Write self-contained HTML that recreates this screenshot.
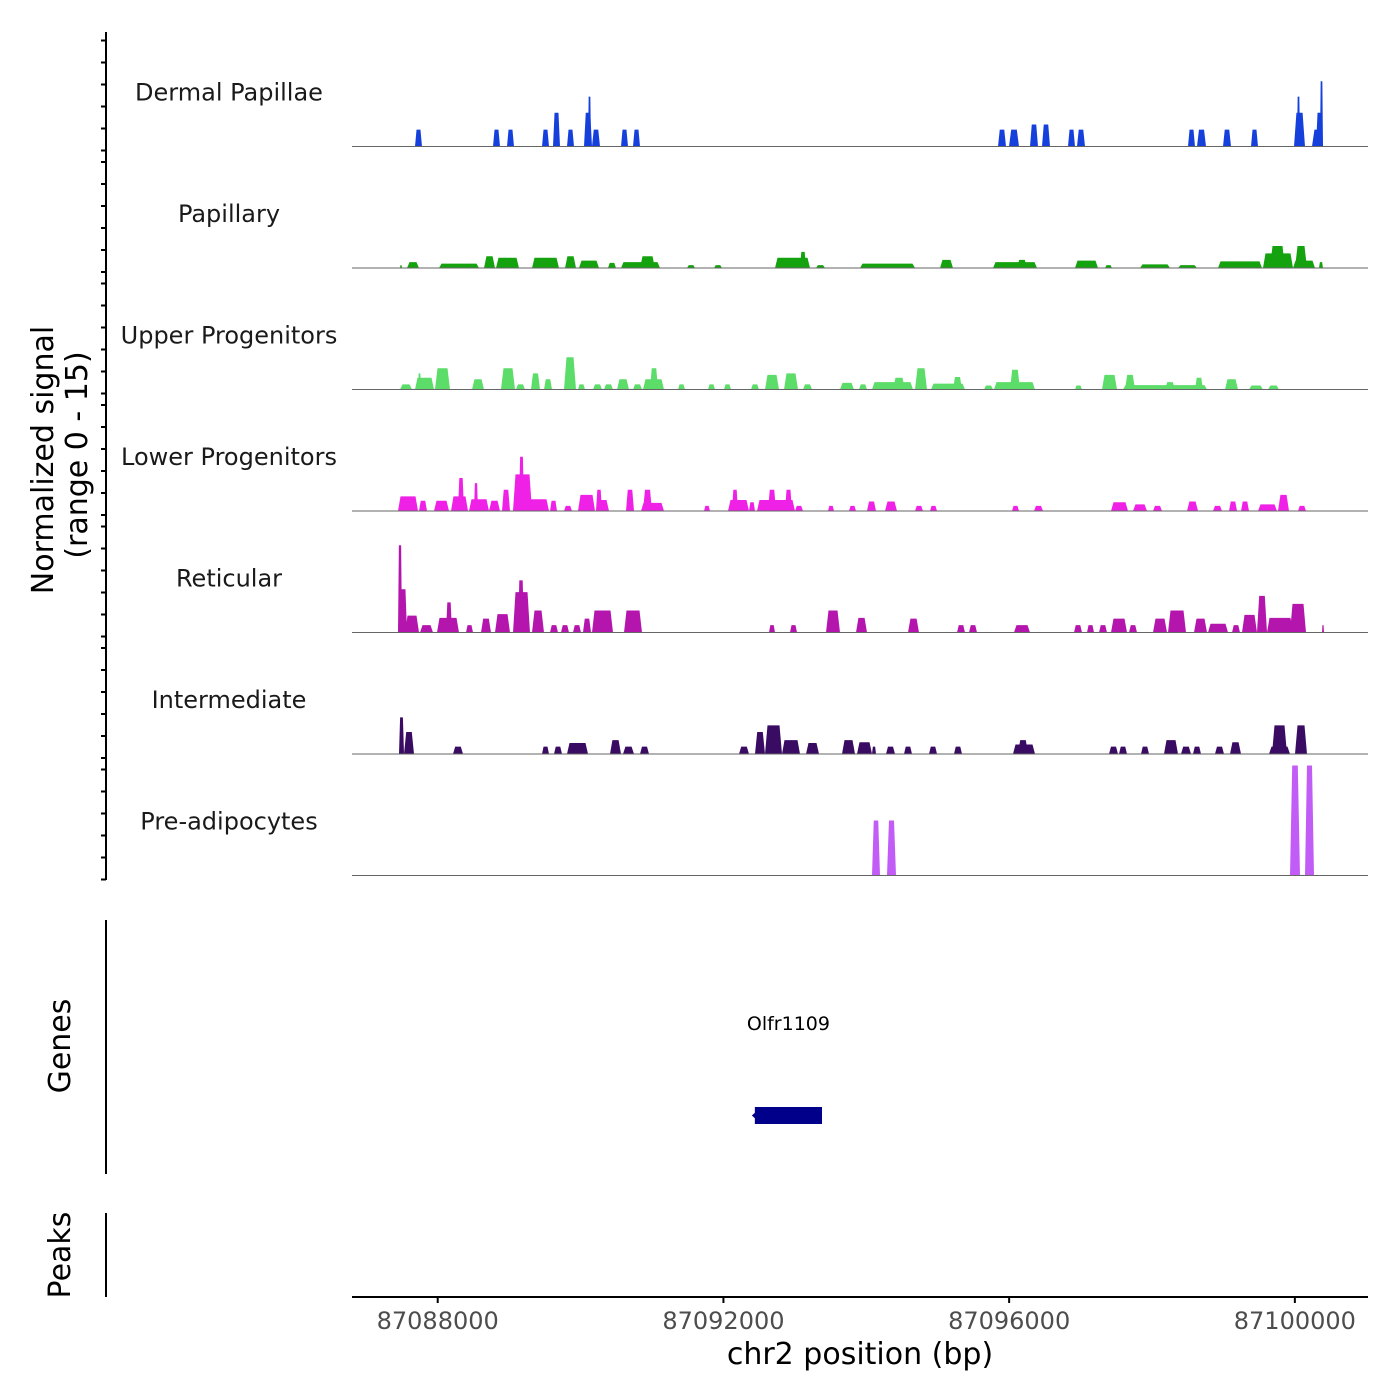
<!DOCTYPE html>
<html><head><meta charset="utf-8"><style>
html,body{margin:0;padding:0;background:#fff;}
svg{display:block;font-family:"DejaVu Sans","Liberation Sans",sans-serif;}
</style></head><body>
<svg id="chart" width="1400" height="1400" viewBox="0 0 1400 1400" xmlns="http://www.w3.org/2000/svg">
<g id="tracks"></g>
<g id="axes"></g>
</svg>
<script>
// ---- data ----
const regionStart = 87086800;       // bp at left edge
const regionEnd = 87101024;         // bp at right edge
const xTicks = [87088000, 87092000, 87096000, 87100000];
const xTickLabels = ["87088000", "87092000", "87096000", "87100000"];
const trackNames = ["Dermal Papillae","Papillary","Upper Progenitors","Lower Progenitors","Reticular","Intermediate","Pre-adipocytes"];
const trackColors = ["#1640dc","#14a30e","#5cdc68","#f021e6","#b416ad","#3a0b62","#c25cf7"];
const yRange = [0, 15];
// peaks: [startOffsetBp, endOffsetBp, value]  (offset from regionStart)
const dermalPapillae = [[882,980,2.3],[1974,2072,2.3],[2170,2268,2.3],[2660,2758,2.3],[2814,2912,4.6],[3010,3108,2.3],[3248,3360,4.6],[3304,3346,6.8],[3360,3472,2.3],[3766,3864,2.3],[3934,4032,2.3],[9044,9156,2.3],[9198,9338,2.3],[9492,9604,3.0],[9660,9772,3.0],[10024,10122,2.3],[10150,10262,2.3],[11704,11802,2.3],[11830,11956,2.3],[12194,12306,2.3],[12586,12684,2.3],[13188,13342,4.6],[13230,13272,6.8],[13440,13594,2.3],[13496,13594,4.6],[13552,13594,8.9]];
const papillary = [[672,700,0.4],[770,938,0.8],[1218,1778,0.6],[1848,2002,1.6],[2016,2338,1.4],[2520,2898,1.4],[2982,3136,1.6],[3178,3458,1.0],[3584,3696,0.7],[3766,4312,0.8],[4032,4242,1.6],[4690,4802,0.4],[5068,5180,0.4],[5922,6412,1.4],[6272,6356,2.2],[6496,6622,0.4],[7112,7882,0.6],[8232,8414,1.1],[8974,9590,0.8],[9310,9450,1.1],[10122,10444,1.0],[10542,10640,0.4],[11032,11452,0.5],[11564,11830,0.4],[12124,12740,0.9],[12754,13174,2.0],[12852,13062,3.0],[13174,13482,1.0],[13202,13370,3.0],[13538,13594,0.8]];
const upperProgenitors = [[672,840,0.7],[882,1148,1.6],[924,966,2.2],[1162,1372,2.9],[1680,1848,1.4],[2086,2282,2.9],[2296,2422,0.7],[2506,2632,2.2],[2688,2800,1.4],[2968,3136,4.4],[3164,3262,0.7],[3374,3500,0.7],[3528,3654,0.7],[3710,3878,1.4],[3934,4060,0.7],[4074,4368,1.4],[4172,4284,2.9],[4564,4662,0.7],[4984,5082,0.7],[5208,5306,0.7],[5586,5698,0.7],[5782,5978,2.0],[6048,6244,2.2],[6314,6440,0.7],[6832,7028,0.9],[7098,7210,0.7],[7280,7854,1.0],[7574,7742,1.6],[7882,8050,2.9],[8106,8582,0.8],[8414,8540,1.7],[8848,8974,0.55],[8988,9562,1.0],[9212,9352,2.7],[10122,10220,0.55],[10500,10710,2.0],[10794,11970,0.6],[10822,10962,2.0],[11382,11522,1.0],[11802,11914,1.6],[12222,12404,1.4],[12558,12754,0.55],[12824,12978,0.55]];
const lowerProgenitors = [[644,924,2.0],[938,1050,1.4],[1148,1358,1.4],[1386,1624,2.0],[1484,1568,4.5],[1638,1918,1.6],[1708,1764,3.8],[1918,2072,1.4],[2100,2212,2.9],[2254,2758,1.6],[2254,2520,5.0],[2338,2408,7.4],[2772,2870,1.4],[2968,3080,0.7],[3164,3402,2.2],[3416,3598,1.5],[3416,3500,2.9],[3836,3948,2.9],[4046,4368,1.1],[4074,4200,2.9],[4928,5012,0.7],[5264,5558,1.5],[5320,5404,2.9],[5558,5642,1.2],[5670,6202,1.5],[5824,5936,2.9],[6062,6160,2.9],[6202,6314,0.7],[6664,6748,0.7],[6958,7056,0.7],[7210,7336,1.3],[7462,7630,1.3],[7882,7994,0.7],[8092,8190,0.7],[9240,9338,0.7],[9548,9674,0.7],[10626,10864,1.2],[10934,11130,0.9],[11214,11340,0.7],[11690,11844,1.3],[12054,12180,0.7],[12278,12390,1.3],[12446,12558,1.3],[12684,12950,0.9],[12964,13118,2.2],[13244,13356,0.7]];
const reticular = [[644,700,11.9],[672,770,5.9],[742,938,2.3],[952,1134,1.0],[1190,1498,2.0],[1316,1400,4.1],[1596,1694,1.0],[1806,1946,1.9],[2002,2212,2.5],[2254,2492,5.5],[2324,2408,7.1],[2520,2688,3.0],[2772,2884,1.0],[2926,3038,1.0],[3094,3206,1.0],[3234,3346,1.9],[3360,3654,3.0],[3808,4060,3.0],[5838,5922,1.0],[6132,6230,1.0],[6636,6832,3.0],[7056,7210,2.0],[7784,7938,1.9],[8470,8582,1.0],[8638,8750,1.0],[9268,9492,1.0],[10108,10220,1.0],[10290,10388,1.0],[10458,10570,1.0],[10626,10850,1.9],[10878,10990,1.0],[11214,11410,1.9],[11424,11676,3.0],[11788,11970,1.9],[11984,12264,1.2],[12320,12432,1.0],[12460,12670,2.4],[12670,12810,5.0],[12810,13174,2.0],[13132,13356,3.9],[13580,13608,1.0]];
const intermediate = [[658,728,5.0],[728,868,3.0],[1414,1554,1.0],[2660,2758,1.0],[2828,2940,1.0],[3010,3304,1.5],[3612,3766,1.9],[3794,3948,1.0],[4032,4158,1.0],[5418,5558,1.0],[5642,5782,3.0],[5782,6020,3.9],[6020,6272,1.9],[6356,6538,1.5],[6860,7042,1.9],[7070,7280,1.6],[7280,7336,1.0],[7476,7602,1.0],[7728,7840,1.0],[8078,8190,1.0],[8428,8540,1.0],[9254,9562,1.3],[9324,9464,1.9],[10598,10724,1.0],[10738,10850,1.0],[11046,11158,1.0],[11368,11564,1.9],[11606,11746,1.0],[11774,11886,1.0],[12082,12208,1.0],[12292,12446,1.6],[12838,13132,1.0],[12880,13090,3.9],[13202,13370,3.9]];
const preAdipocytes = [[7280,7392,7.5],[7490,7616,7.5],[13132,13272,15],[13342,13468,15]];
const trackData = [dermalPapillae, papillary, upperProgenitors, lowerProgenitors, reticular, intermediate, preAdipocytes];
const geneName = "Olfr1109";
const geneStart = 87092440;
const geneEnd = 87093380;

// ---- layout ----
const NS = "http://www.w3.org/2000/svg";
const plotL = 352, plotR = 1368;
const trackTop0 = 25, trackH = 121.5, trackPlotH = 110;
function xScale(bp){ return plotL + (bp - regionStart) / (regionEnd - regionStart) * (plotR - plotL); }
function yScale(v, base){ return base - (v - yRange[0]) / (yRange[1] - yRange[0]) * trackPlotH; }
function mk(tag, attrs, parent){ const e = document.createElementNS(NS, tag); for (const k in attrs) e.setAttribute(k, attrs[k]); parent.appendChild(e); return e; }

const tracksG = document.getElementById('tracks');
const axesG = document.getElementById('axes');

trackData.forEach((peaks, ti) => {
  const base = trackTop0 + trackH * (ti + 1);
  const g = mk('g', {}, tracksG);
  
  
  peaks.forEach((p, pi) => {
    const x0 = xScale(regionStart + p[0]), x1 = xScale(regionStart + p[1]);
    const w = x1 - x0, s = Math.min(w * 0.22, 2.5);
    const y = yScale(p[2], base);
    const poly = mk('polygon', {points: `${x0},${base} ${x0+s},${y} ${x1-s},${y} ${x1},${base}`, fill: trackColors[ti]}, g);
    
    
  });
  const bl = mk('line', {x1: plotL, x2: plotR, y1: base, y2: base, stroke: '#666', 'stroke-width': 1}, g);
  
  
  const lab = mk('text', {x: 229, y: base - 46, 'text-anchor': 'middle', 'font-size': 24, fill: '#1a1a1a'}, g);
  lab.textContent = trackNames[ti];
  
  
  [0, 22, 44, 66, 88, 110].forEach(o => {
    const t = mk('line', {x1: 101, x2: 106, y1: base - o + 4, y2: base - o + 4, stroke: '#000', 'stroke-width': 2}, axesG);
    
    
  });
});

const ya = mk('line', {x1: 106, x2: 106, y1: 32, y2: 880, stroke: '#000', 'stroke-width': 2}, axesG);


const yt = mk('text', {transform: 'translate(53,460) rotate(-90)', 'text-anchor': 'middle', 'font-size': 30, fill: '#000'}, axesG);
yt.textContent = 'Normalized signal';


const yt2 = mk('text', {transform: 'translate(87,455) rotate(-90)', 'text-anchor': 'middle', 'font-size': 30, fill: '#000'}, axesG);
yt2.textContent = '(range 0 - 15)';



const ga = mk('line', {x1: 106, x2: 106, y1: 920, y2: 1174, stroke: '#000', 'stroke-width': 2}, axesG);


const gt = mk('text', {transform: 'translate(70,1046) rotate(-90)', 'text-anchor': 'middle', 'font-size': 30, fill: '#000'}, axesG);
gt.textContent = 'Genes';


const gx0 = xScale(geneStart), gx1 = xScale(geneEnd);
const gr = mk('rect', {x: gx0, y: 1107, width: gx1 - gx0, height: 17, fill: '#00008b'}, axesG);


const garr = mk('polygon', {points: `${gx0-3},1115.5 ${gx0+2},1111 ${gx0+2},1120`, fill: '#00008b'}, axesG);


const gl = mk('text', {x: (gx0 + gx1) / 2, y: 1030, 'text-anchor': 'middle', 'font-size': 19, fill: '#000'}, axesG);
gl.textContent = geneName;



const pa = mk('line', {x1: 106, x2: 106, y1: 1213, y2: 1297, stroke: '#000', 'stroke-width': 2}, axesG);


const pt = mk('text', {transform: 'translate(70,1255) rotate(-90)', 'text-anchor': 'middle', 'font-size': 30, fill: '#000'}, axesG);
pt.textContent = 'Peaks';



const xa = mk('line', {x1: plotL, x2: plotR, y1: 1297, y2: 1297, stroke: '#000', 'stroke-width': 2}, axesG);


xTicks.forEach((t, i) => {
  const x = xScale(t);
  const tk = mk('line', {x1: x, x2: x, y1: 1297, y2: 1303, stroke: '#000', 'stroke-width': 2}, axesG);
  
  
  const tl = mk('text', {x: x, y: 1329, 'text-anchor': 'middle', 'font-size': 24, fill: '#4d4d4d'}, axesG);
  tl.textContent = xTickLabels[i];
  
  
});
const xt = mk('text', {x: 860, y: 1364, 'text-anchor': 'middle', 'font-size': 30, fill: '#000'}, axesG);
xt.textContent = 'chr2 position (bp)';


</script>
</body></html>
